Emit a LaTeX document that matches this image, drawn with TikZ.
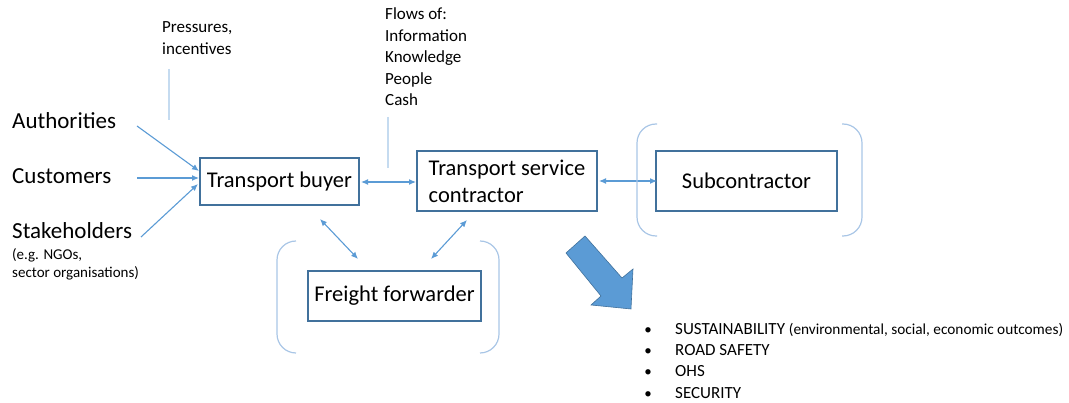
\documentclass[tikz,border=0pt]{standalone}
\usepackage{fontspec}
\setmainfont{Carlito}
\usetikzlibrary{arrows.meta}
\definecolor{boxc}{HTML}{41719C}
\definecolor{arr}{HTML}{5B9BD5}
\definecolor{brk}{HTML}{A9C6E6}
\definecolor{vline}{HTML}{C5DBF0}
\begin{document}
\begin{tikzpicture}[x=1pt,y=-1pt,
 boxnode/.style={draw=boxc,line width=1.3pt,inner sep=0pt,align=left,font=\fontsize{22.5}{27}\selectfont},
 lbl/.style={anchor=base west,inner sep=0pt,font=\fontsize{17}{21}\selectfont},
 big/.style={anchor=base west,inner sep=0pt,font=\fontsize{23}{27}\selectfont},
 small/.style={anchor=base west,inner sep=0pt,font=\fontsize{15}{18}\selectfont},
 conn/.style={draw=arr,line width=1.1pt,-{Latex[length=7pt,width=6pt]}},
 dconn/.style={draw=arr,line width=1.1pt,{Latex[length=7pt,width=6pt]}-{Latex[length=7pt,width=6pt]}},
 bracket/.style={draw=brk,line width=1.2pt,rounded corners=19pt},
 guide/.style={draw=vline,line width=1.1pt},
 bigarrow/.style={fill=arr,draw=boxc,line width=0.6pt},
 ]
\useasboundingbox (0,0) rectangle (1069,403);

% boxes
\node[boxnode,minimum width=159pt,minimum height=47pt,align=center] (tb) at (279.5,181.5) {Transport buyer};
\node[boxnode,minimum width=180pt,minimum height=60pt] (tsc) at (507,181) {Transport service\\contractor};
\node[boxnode,minimum width=181pt,minimum height=60pt,align=center] (sub) at (746.5,181) {Subcontractor};
\node[boxnode,minimum width=173pt,minimum height=50pt,align=center] (ff) at (394.5,296) {Freight forwarder};

% left labels
\node[big] (auth) at (12,129) {Authorities};
\node[big] (cust) at (12,184) {Customers};
\node[big] (stake) at (12,239) {Stakeholders};
\node[small] (eg1) at (12,260) {(e.g. NGOs,};
\node[small] (eg2) at (12,278) {sector organisations)};

% top labels
\node[lbl] (pr1) at (162,33) {Pressures,};
\node[lbl] (pr2) at (162,55) {incentives};
\node[lbl] (fl1) at (385,20) {Flows of:};
\node[lbl] (fl2) at (385,41.5) {Information};
\node[lbl] (fl3) at (385,63) {Knowledge};
\node[lbl] (fl4) at (385,84.5) {People};
\node[lbl] (fl5) at (385,106) {Cash};

% guide lines
\coordinate (g1a) at (169,69); \coordinate (g1b) at (169,120);
\coordinate (g2a) at (388,117); \coordinate (g2b) at (388,168);
\draw[guide] (g1a) -- (g1b);
\draw[guide] (g2a) -- (g2b);

% input arrows
\coordinate (a1s) at (137,126); \coordinate (a1e) at (199,171);
\coordinate (a2s) at (137,178); \coordinate (a2e) at (199,178);
\coordinate (a3s) at (141,237); \coordinate (a3e) at (198,184);
\draw[conn] (a1s) -- (a1e);
\draw[conn] (a2s) -- (a2e);
\draw[conn] (a3s) -- (a3e);

% double arrows
\coordinate (b1s) at (361,182); \coordinate (b1e) at (416,182);
\coordinate (b2s) at (599,181); \coordinate (b2e) at (657,181);
\coordinate (b3s) at (320,219); \coordinate (b3e) at (358,259);
\coordinate (b4s) at (467,220); \coordinate (b4e) at (431,259);
\draw[dconn] (b1s) -- (b1e);
\draw[dconn] (b2s) -- (b2e);
\draw[dconn] (b3s) -- (b3e);
\draw[dconn] (b4s) -- (b4e);

% brackets
\draw[bracket] (657,124) -- (637,124) -- (637,236) -- (657,236);
\draw[bracket] (842,124) -- (862,124) -- (862,236) -- (842,236);
\draw[bracket] (296,241) -- (277,241) -- (277,353) -- (296,353);
\draw[bracket] (480,241) -- (499,241) -- (499,353) -- (480,353);

% big arrow
\draw[bigarrow] (566,253) -- (585,236) -- (622,278) -- (633,269) -- (631,309) -- (591,305) -- (601,296) -- cycle;

% bullets
\foreach \yy/\nm in {335/bu1,356/bu2,377/bu3,399/bu4}{
  \node[anchor=base,inner sep=0pt,font=\fontsize{15}{18}\selectfont] (\nm) at (648,\yy) {•};
}
\node[lbl] (o1) at (675,335) {SUSTAINABILITY {\fontsize{15.3}{18}\selectfont(environmental, social, economic outcomes)}};
\node[lbl] (o2) at (675,356) {ROAD SAFETY};
\node[lbl] (o3) at (675,377) {OHS};
\node[lbl] (o4) at (675,399) {SECURITY};
\end{tikzpicture}
\end{document}
